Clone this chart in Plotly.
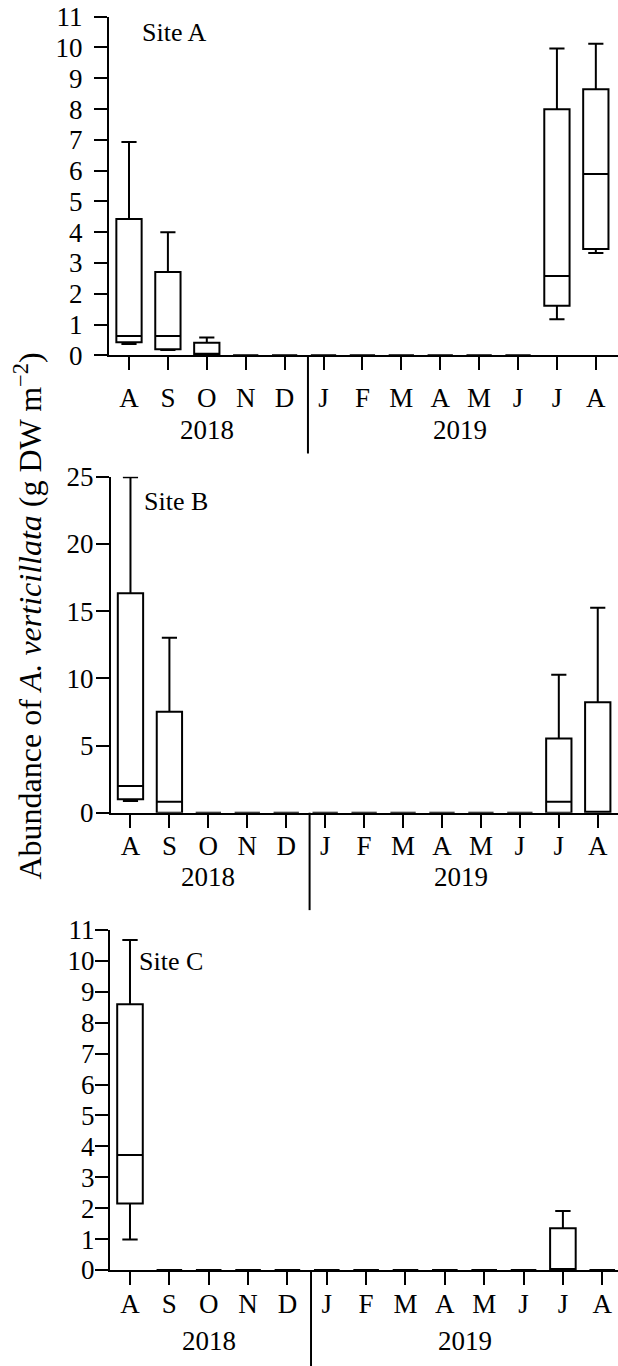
import plotly.graph_objects as go

months = ["A", "S", "O", "N", "D", "J", "F", "M", "A", "M", "J", "J", "A"]
month_pos = list(range(13))
years = ["2018", "2019"]
year_pos = [2, 8.5]
year_break = 4.6

# Site A (g DW m-2)
a_lower = [0.37, 0.17, 0.0, 0, 0, 0, 0, 0, 0, 0, 0, 1.17, 3.32]
a_q1 = [0.42, 0.20, 0.02, 0, 0, 0, 0, 0, 0, 0, 0, 1.61, 3.45]
a_med = [0.63, 0.63, 0.05, 0, 0, 0, 0, 0, 0, 0, 0, 2.58, 5.89]
a_q3 = [4.43, 2.71, 0.41, 0, 0, 0, 0, 0, 0, 0, 0, 7.99, 8.64]
a_upper = [6.93, 4.0, 0.58, 0, 0, 0, 0, 0, 0, 0, 0, 9.97, 10.12]

# Site B
b_lower = [0.87, 0.0, 0, 0, 0, 0, 0, 0, 0, 0, 0, 0.0, 0.0]
b_q1 = [1.0, 0.0, 0, 0, 0, 0, 0, 0, 0, 0, 0, 0.0, 0.0]
b_med = [1.99, 0.82, 0, 0, 0, 0, 0, 0, 0, 0, 0, 0.82, 0.0]
b_q3 = [16.32, 7.52, 0, 0, 0, 0, 0, 0, 0, 0, 0, 5.53, 8.21]
b_upper = [24.95, 13.02, 0, 0, 0, 0, 0, 0, 0, 0, 0, 10.27, 15.25]

# Site C
c_lower = [0.99, 0, 0, 0, 0, 0, 0, 0, 0, 0, 0, 0.0, 0]
c_q1 = [2.15, 0, 0, 0, 0, 0, 0, 0, 0, 0, 0, 0.0, 0]
c_med = [3.72, 0, 0, 0, 0, 0, 0, 0, 0, 0, 0, 0.0, 0]
c_q3 = [8.6, 0, 0, 0, 0, 0, 0, 0, 0, 0, 0, 1.35, 0]
c_upper = [10.68, 0, 0, 0, 0, 0, 0, 0, 0, 0, 0, 1.91, 0]

site_names = ["Site A", "Site B", "Site C"]

FONT = "Liberation Serif"
FS = 27
W, H = 618, 1366

panels = [
    dict(lower=a_lower, q1=a_q1, med=a_med, q3=a_q3, upper=a_upper,
         ydom=(1 - 355.3 / H, 1 - 16.7 / H), xdom=(109 / W, 1), xr=(-0.514, 12.57),
         yr=(0, 11), dtick=1, standoff=4, ystandoff=6, year_y=-0.22, site_xy=(140, 32)),
    dict(lower=b_lower, q1=b_q1, med=b_med, q3=b_q3, upper=b_upper,
         ydom=(1 - 812.7 / H, 1 - 476.7 / H), xdom=(111 / W, 1), xr=(-0.50, 12.52),
         yr=(0, 25), dtick=5, standoff=-5, ystandoff=-3, year_y=-0.192, site_xy=(141.5, 501.7)),
    dict(lower=c_lower, q1=c_q1, med=c_med, q3=c_q3, upper=c_upper,
         ydom=(1 - 1270 / H, 1 - 930 / H), xdom=(110 / W, 1), xr=(-0.508, 12.4),
         yr=(0, 11), dtick=1, standoff=-4, ystandoff=-5, year_y=-0.208, site_xy=(137, 961.7)),
]

fig = go.Figure()
annotations = []
shapes = []
for i, p in enumerate(panels):
    k = "" if i == 0 else str(i + 1)
    fig.add_trace(go.Box(
        x=month_pos, q1=p["q1"], median=p["med"], q3=p["q3"],
        lowerfence=p["lower"], upperfence=p["upper"],
        width=0.65, whiskerwidth=0.6, boxpoints=False,
        fillcolor="rgba(0,0,0,0)", line=dict(color="black", width=2),
        xaxis="x" + k, yaxis="y" + k, showlegend=False, hoverinfo="skip",
    ))
    fig.update_layout(**{
        "xaxis" + k: dict(
            domain=list(p["xdom"]), range=list(p["xr"]), anchor="y" + k,
            tickvals=month_pos, ticktext=months, ticks="outside", ticklen=13,
            tickwidth=2, tickcolor="black", showline=True, linecolor="black",
            linewidth=2, showgrid=False, zeroline=False, automargin=False,
            tickfont=dict(family=FONT, size=FS, color="black"),
            ticklabelstandoff=p["standoff"],
        ),
        "yaxis" + k: dict(
            domain=list(p["ydom"]), range=list(p["yr"]), anchor="x" + k,
            dtick=p["dtick"], tick0=0, ticks="outside", ticklen=13, tickwidth=2,
            tickcolor="black", showline=True, linecolor="black", linewidth=2,
            showgrid=False, zeroline=False, automargin=False,
            tickfont=dict(family=FONT, size=FS, color="black"),
            ticklabelstandoff=p["ystandoff"],
        ),
    })
    for yt, yp in zip(years, year_pos):
        annotations.append(dict(
            text=yt, x=yp, xref="x" + k, y=p["year_y"], yref="y" + k + " domain",
            showarrow=False, xanchor="center", yanchor="middle",
            font=dict(family=FONT, size=FS, color="black"),
        ))
    sx, sy = p["site_xy"]
    annotations.append(dict(
        text=site_names[i], x=sx / W, xref="paper", y=1 - sy / H, yref="paper",
        showarrow=False, xanchor="left", yanchor="middle",
        font=dict(family=FONT, size=FS - 1, color="black"),
    ))
    shapes.append(dict(
        type="line", xref="x" + k, yref="y" + k + " domain",
        x0=year_break, x1=year_break, y0=0, y1=-0.29,
        line=dict(color="black", width=2),
    ))

annotations.append(dict(
    text="Abundance of <i>A. verticillata</i> (g DW m<sup>−2</sup>)",
    x=27 / W, xref="paper", y=1 - 616.5 / H, yref="paper",
    textangle=-90, showarrow=False, xanchor="center", yanchor="middle",
    font=dict(family=FONT, size=32, color="black"),
))

fig.update_layout(
    width=W, height=H, margin=dict(l=0, r=0, t=0, b=0, autoexpand=False),
    paper_bgcolor="white", plot_bgcolor="white",
    annotations=annotations, shapes=shapes, showlegend=False,
)

fig.write_html("out.html", config={"displayModeBar": False},
               post_script="document.body.style.margin='0';")
